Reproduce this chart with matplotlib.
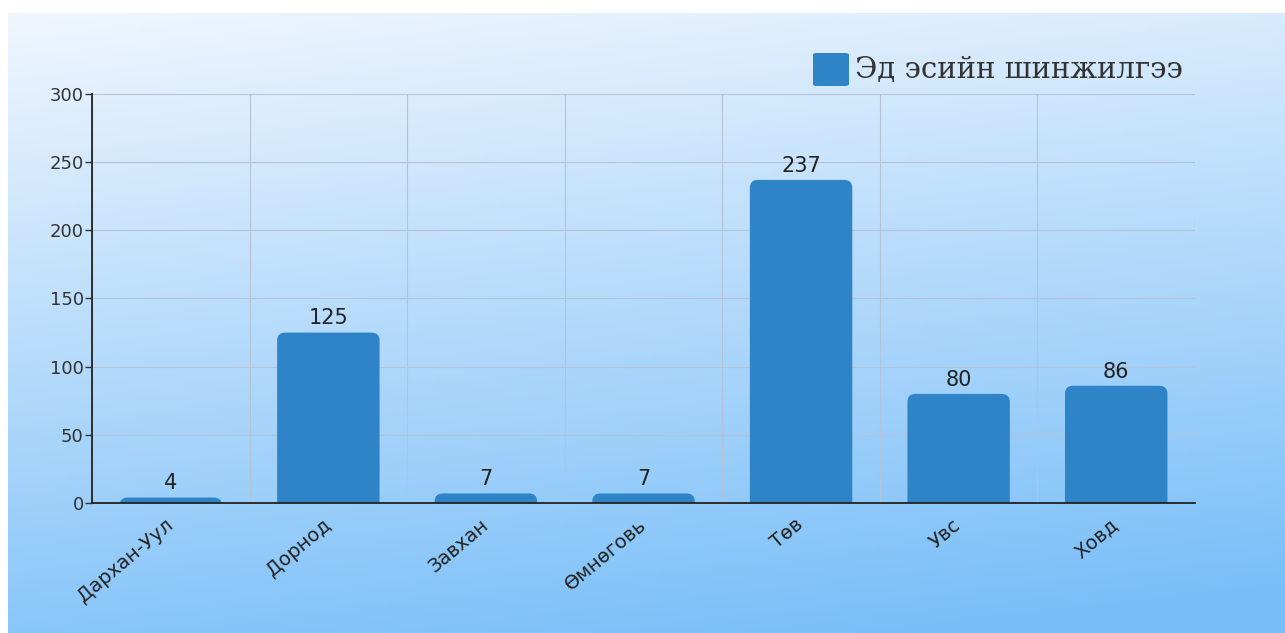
import matplotlib.pyplot as plt
import numpy as np
from matplotlib.patches import FancyBboxPatch

regions = ["Дархан-Уул", "Дорнод", "Завхан", "Өмнөговь", "Төв", "Увс", "Ховд"]
counts = [4, 125, 7, 7, 237, 80, 86]
series_name = "Эд эсийн шинжилгээ"
yticks = [0, 50, 100, 150, 200, 250, 300]

bar_color = "#2e84c6"


def main():
    W, H = 1285, 633
    fig = plt.figure(figsize=(W / 100, H / 100), dpi=100)

    # background gradient (light top-left -> saturated blue bottom-right)
    bg = fig.add_axes([8 / W, 0, 1 - 8 / W, 1 - 13 / H])
    yy, xx = np.mgrid[0:1:200j, 0:1:400j]
    t = np.clip(0.85 * yy + 0.2 * xx, 0, 1)
    c0 = np.array([240, 246, 254]) / 255
    c1 = np.array([120, 190, 248]) / 255
    img = c0[None, None, :] * (1 - t[..., None]) + c1[None, None, :] * t[..., None]
    bg.imshow(img, aspect="auto", extent=[0, 1, 0, 1], origin="upper")
    bg.axis("off")

    ax = fig.add_axes([92 / W, (H - 503) / H, (1195 - 92) / W, (503 - 94) / H])
    ax.patch.set_alpha(0)
    x = np.arange(len(regions))
    bars = ax.bar(x, counts, width=0.65, color=bar_color)
    ax.set_xlim(-0.5, len(regions) - 0.5)
    ax.set_ylim(0, 300)

    # rounded-top bars (bottom corners hidden below the axis)
    px_x = 1103 / len(regions)
    px_y = 409 / 300
    asp = px_x / px_y
    for b in bars:
        b.set_visible(False)
        h = b.get_height()
        r_px = 8
        rr = r_px / px_x
        below = r_px / px_y
        p = FancyBboxPatch((b.get_x(), -below), b.get_width(), h + below,
                           boxstyle=f"round,pad=0,rounding_size={rr}",
                           mutation_aspect=asp, fc=bar_color, ec="none",
                           zorder=2)
        ax.add_patch(p)
        ax.text(b.get_x() + b.get_width() / 2, h + 3, str(int(h)), ha="center",
                va="bottom", fontsize=15, family="DejaVu Sans", color="#222222")

    ax.set_yticks(yticks)
    ax.set_yticklabels([str(v) for v in yticks], fontsize=13,
                       family="DejaVu Sans", color="#333333")
    ax.set_xticks(np.arange(len(regions) + 1) - 0.5, minor=False)
    ax.set_xticklabels([])
    ax.tick_params(axis="x", length=0)
    ax.tick_params(axis="y", length=5, width=1, pad=1, color="#333333")
    ax.grid(True, color="#b4c3d6", linewidth=0.8)
    ax.set_axisbelow(True)

    for i, name in enumerate(regions):
        ax.annotate(name, xy=(i, 0), xycoords=("data", "axes fraction"),
                    xytext=(0, -14), textcoords="offset points",
                    rotation=40, rotation_mode="anchor", ha="right", va="center",
                    fontsize=14, family="DejaVu Sans", color="#222222")

    for s in ["top", "right"]:
        ax.spines[s].set_visible(False)
    ax.spines["left"].set_color("#222222")
    ax.spines["bottom"].set_color("#222222")
    ax.spines["left"].set_linewidth(1.3)
    ax.spines["bottom"].set_linewidth(1.3)
    ax.spines["bottom"].set_zorder(3)

    # legend
    fig.patches.append(FancyBboxPatch((813 / W, (H - 86) / H), 36 / W, 33 / H,
                                      boxstyle="round,pad=0,rounding_size=0.003",
                                      transform=fig.transFigure, fc=bar_color, ec="none"))
    fig.text(855 / W, (H - 70) / H, series_name, fontsize=21, family="DejaVu Serif",
             color="#333333", va="center", ha="left")

    fig.savefig("out.png", dpi=100)


if __name__ == "__main__":
    main()
